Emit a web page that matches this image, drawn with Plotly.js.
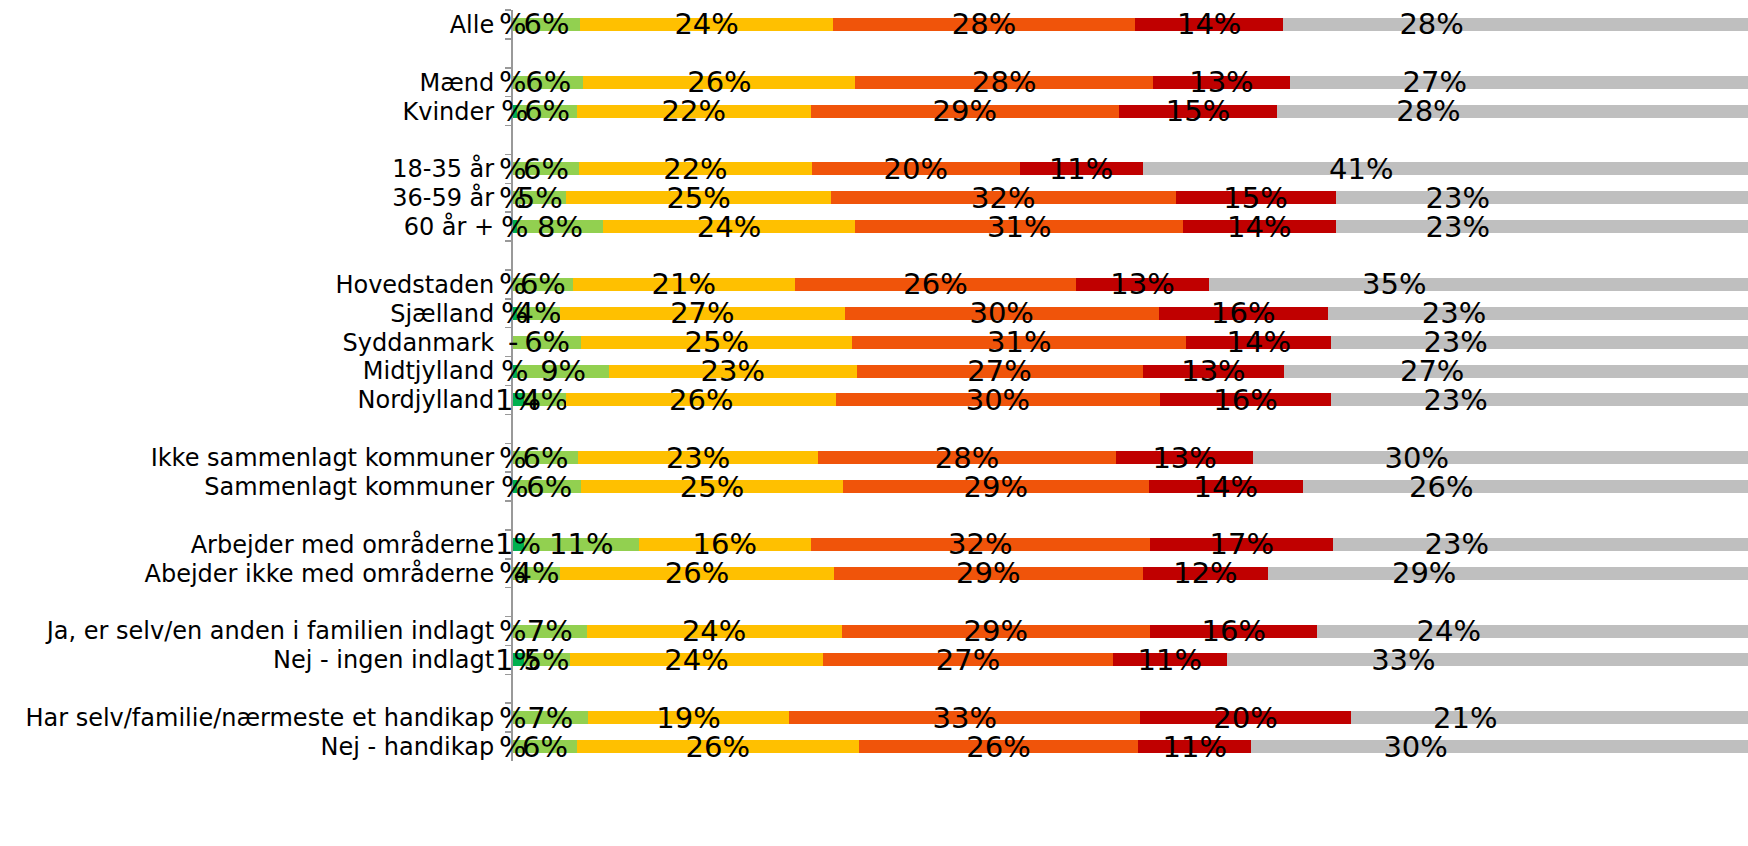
<!DOCTYPE html>
<html><head><meta charset="utf-8">
<script src="https://cdn.plot.ly/plotly-3.0.1.min.js"></script>
<style>html,body{margin:0;padding:0;background:#fff;overflow:hidden}</style>
</head><body>
<div id="chart" style="width:1748px;height:846px"></div>
<script>
// Axis categories (blank entries are the gaps between groups)
const categories = ["Alle", " ", "Mænd", "Kvinder", "  ", "18-35 år", "36-59 år", "60 år +", "   ",
  "Hovedstaden", "Sjælland", "Syddanmark", "Midtjylland", "Nordjylland", "    ",
  "Ikke sammenlagt kommuner", "Sammenlagt kommuner", "     ",
  "Arbejder med områderne", "Abejder ikke med områderne", "      ",
  "Ja, er selv/en anden i familien indlagt", "Nej - ingen indlagt", "       ",
  "Har selv/familie/nærmeste et handikap", "Nej - handikap"];

// Rows that carry bars
const rows = ["Alle", "Mænd", "Kvinder", "18-35 år", "36-59 år", "60 år +",
  "Hovedstaden", "Sjælland", "Syddanmark", "Midtjylland", "Nordjylland",
  "Ikke sammenlagt kommuner", "Sammenlagt kommuner",
  "Arbejder med områderne", "Abejder ikke med områderne",
  "Ja, er selv/en anden i familien indlagt", "Nej - ingen indlagt",
  "Har selv/familie/nærmeste et handikap", "Nej - handikap"];

// Series values (percent)
const darkGreen  = [0, 0, 0.4, 0, 0, 0.4, 0, 0.4, 0, 0.4, 1.0, 0, 0.4, 1.0, 0, 0, 1.0, 0, 0];
const lightGreen = [6.3, 6.6, 5.6, 6.2, 5.0, 8.0, 5.6, 4.0, 6.4, 8.6, 4.0, 6.1, 6.0, 10.8, 4.4, 6.9, 4.3, 7.0, 6.0];
const yellow     = [23.7, 25.5, 21.9, 21.8, 24.8, 23.7, 20.8, 26.7, 25.4, 23.2, 25.3, 22.5, 24.5, 16.1, 25.7, 23.9, 23.8, 18.9, 26.4];
const orange     = [28.3, 27.9, 28.9, 19.5, 32.3, 30.7, 26.4, 29.4, 31.3, 26.8, 30.3, 27.9, 28.7, 31.8, 28.9, 28.9, 27.1, 32.9, 26.2];
const red        = [13.9, 12.8, 14.8, 11.5, 15.0, 14.3, 12.4, 15.9, 13.6, 13.3, 16.1, 12.9, 14.4, 17.2, 11.8, 15.7, 10.7, 19.7, 10.6];
const gray       = [27.8, 27.2, 28.4, 41.0, 22.9, 22.9, 34.8, 23.6, 23.3, 27.7, 23.3, 30.6, 26.0, 23.1, 29.2, 24.6, 33.1, 21.5, 30.8];
const grayBeyond = [20, 20, 20, 20, 20, 20, 20, 20, 20, 20, 20, 20, 20, 20, 20, 20, 20, 20, 20];

// Data labels as printed on the chart
const darkGreenLabels  = ["%", "%", "%", "%", "%", "%", "%", "%", "-", "%", "1%", "%", "%", "1%", "%", "%", "1%", "%", "%"];
const lightGreenLabels = ["6%", "6%", "6%", "6%", "5%", "8%", "6%", "4%", "6%", "9%", "4%", "6%", "6%", "11%", "4%", "7%", "5%", "7%", "6%"];
const yellowLabels     = ["24%", "26%", "22%", "22%", "25%", "24%", "21%", "27%", "25%", "23%", "26%", "23%", "25%", "16%", "26%", "24%", "24%", "19%", "26%"];
const orangeLabels     = ["28%", "28%", "29%", "20%", "32%", "31%", "26%", "30%", "31%", "27%", "30%", "28%", "29%", "32%", "29%", "29%", "27%", "33%", "26%"];
const redLabels        = ["14%", "13%", "15%", "11%", "15%", "14%", "13%", "16%", "14%", "13%", "16%", "13%", "14%", "17%", "12%", "16%", "11%", "20%", "11%"];
const grayLabels       = ["28%", "27%", "28%", "41%", "23%", "23%", "35%", "23%", "23%", "27%", "23%", "30%", "26%", "23%", "29%", "24%", "33%", "21%", "30%"];

const labelFont = {family: "DejaVu Sans, Verdana, sans-serif", size: 29, color: "#000"};

function barTrace(name, values, labels, color) {
  return {
    type: "bar", orientation: "h", name: name,
    y: rows, x: values,
    text: labels || null,
    textposition: labels ? "inside" : "none",
    insidetextanchor: "middle",
    constraintext: "none",
    textangle: 0,
    cliponaxis: false,
    insidetextfont: labelFont,
    marker: {color: color, line: {width: 0}},
    hoverinfo: "x+y+name"
  };
}

const traces = [
  barTrace("Serie 1", darkGreen, null, "#00B050"),
  barTrace("Serie 2", lightGreen, lightGreenLabels, "#92D050"),
  barTrace("Serie 3", yellow, yellowLabels, "#FFC000"),
  barTrace("Serie 4", orange, orangeLabels, "#F0540A"),
  barTrace("Serie 5", red, redLabels, "#C00000"),
  barTrace("Serie 6", gray, grayLabels, "#BFBFBF"),
  barTrace("Serie 6 (fortsat)", grayBeyond, null, "#BFBFBF")
];

const annotations = rows.map((r, i) => ({
  x: darkGreen[i] / 2, y: r, xref: "x", yref: "y",
  text: darkGreenLabels[i], showarrow: false,
  xanchor: "center", yanchor: "middle",
  font: labelFont
}));

const layout = {
  width: 1748, height: 846,
  margin: {l: 513, r: 0, t: 10, b: 85, pad: 0},
  paper_bgcolor: "#fff", plot_bgcolor: "#fff",
  barmode: "stack", bargap: 0.55,
  showlegend: false,
  font: {family: "DejaVu Sans, Verdana, sans-serif", color: "#000"},
  xaxis: {range: [0, 115.75], visible: false, fixedrange: true},
  yaxis: {
    type: "category", categoryorder: "array", categoryarray: categories,
    range: [25.5, -0.5], autorange: false,
    tickmode: "linear", tick0: 0, dtick: 1,
    tickson: "boundaries", ticks: "outside", ticklen: 6, tickwidth: 1.5, tickcolor: "#999",
    showline: true, linecolor: "#999", linewidth: 2,
    ticklabelstandoff: 12,
    tickfont: {family: "DejaVu Sans, Verdana, sans-serif", size: 24, color: "#000"},
    showgrid: false, zeroline: false, fixedrange: true
  },
  annotations: annotations
};

Plotly.newPlot("chart", traces, layout, {displayModeBar: false, staticPlot: true});
</script>
</body></html>
